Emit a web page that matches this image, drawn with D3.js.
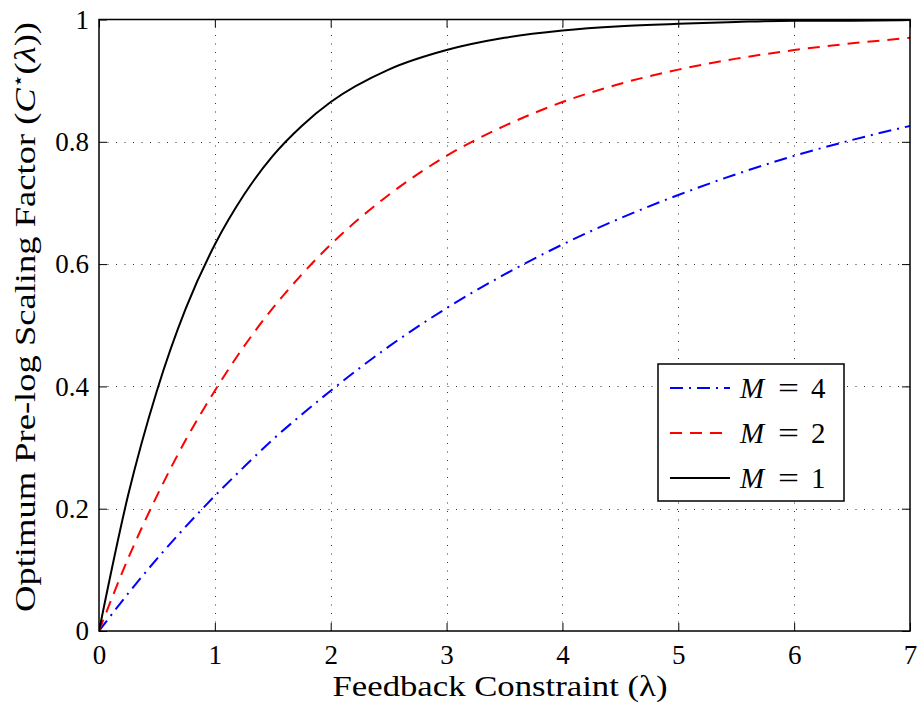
<!DOCTYPE html>
<html>
<head>
<meta charset="utf-8">
<script src="https://cdn.jsdelivr.net/npm/d3@7/dist/d3.min.js"></script>
<style>
  html, body { margin: 0; padding: 0; background: #fff; }
  svg { display: block; }
  text { font-family: "Liberation Serif", "DejaVu Serif", serif; fill: #000; }
</style>
</head>
<body>
<svg id="chart" width="917" height="703"></svg>
<script>
// Feedback constraint values (x axis)
const lambda = [0, 0.25, 0.5, 0.75, 1, 1.25, 1.5, 1.75, 2, 2.5, 3, 3.5, 4, 4.5, 5, 5.5, 6, 6.5, 7];

// Optimum pre-log scaling factor for each number of antennas M
const cM1 = [0, 0.221, 0.393, 0.528, 0.632, 0.713, 0.777, 0.826, 0.865, 0.918, 0.950, 0.970, 0.982, 0.989, 0.993, 0.996, 0.998, 0.998, 0.999];
const cM2 = [0, 0.118, 0.221, 0.313, 0.393, 0.465, 0.528, 0.583, 0.632, 0.713, 0.777, 0.826, 0.865, 0.895, 0.918, 0.936, 0.950, 0.961, 0.970];
const cM4 = [0, 0.061, 0.118, 0.171, 0.221, 0.268, 0.313, 0.354, 0.393, 0.465, 0.528, 0.583, 0.632, 0.675, 0.713, 0.747, 0.777, 0.803, 0.826];

const xTicks = [0, 1, 2, 3, 4, 5, 6, 7];
const yTicks = [0, 0.2, 0.4, 0.6, 0.8, 1];

const series = [
  { label: "4", values: cM4, color: "#0000ff", dash: "13,6,2,6" },
  { label: "2", values: cM2, color: "#ff0000", dash: "12,8" },
  { label: "1", values: cM1, color: "#000000", dash: null }
];

const serif = '"Liberation Serif", "DejaVu Serif", serif';
const svg = d3.select("#chart");
const plot = { left: 99, right: 910, top: 19.5, bottom: 631 };

const x = d3.scaleLinear().domain([0, 7]).range([plot.left, plot.right]);
const y = d3.scaleLinear().domain([0, 1]).range([plot.bottom, plot.top]);

// Dotted grid
const grid = svg.append("g").attr("stroke", "#333").attr("stroke-width", 1)
  .attr("stroke-dasharray", "1,7.5");
grid.selectAll("line.gx").data(xTicks.slice(1, -1)).join("line")
  .attr("x1", d => Math.round(x(d)) + 0.5).attr("x2", d => Math.round(x(d)) + 0.5)
  .attr("y1", plot.bottom).attr("y2", plot.top);
grid.selectAll("line.gy").data(yTicks.slice(1, -1)).join("line")
  .attr("y1", d => Math.round(y(d)) + 0.5).attr("y2", d => Math.round(y(d)) + 0.5)
  .attr("x1", plot.left).attr("x2", plot.right);

// Axes with inward ticks on all four sides
const tickLen = 8;
const fmt = d => d === 0 ? "0" : d === 1 ? "1" : d3.format(".1f")(d);

const xAxis = svg.append("g").attr("transform", `translate(0,${plot.bottom})`)
  .call(d3.axisBottom(x).tickValues(xTicks).tickSizeInner(-tickLen).tickSizeOuter(0).tickPadding(14).tickFormat(d3.format("d")));
const xAxisTop = svg.append("g").attr("transform", `translate(0,${plot.top})`)
  .call(d3.axisTop(x).tickValues(xTicks).tickSizeInner(-tickLen).tickSizeOuter(0).tickFormat(""));
const yAxis = svg.append("g").attr("transform", `translate(${plot.left},0)`)
  .call(d3.axisLeft(y).tickValues(yTicks).tickSizeInner(-tickLen).tickSizeOuter(0).tickPadding(10).tickFormat(fmt));
const yAxisRight = svg.append("g").attr("transform", `translate(${plot.right},0)`)
  .call(d3.axisRight(y).tickValues(yTicks).tickSizeInner(-tickLen).tickSizeOuter(0).tickFormat(""));

[xAxis, xAxisTop, yAxis, yAxisRight].forEach(g => {
  g.attr("font-family", null).attr("font-size", null);
  g.select(".domain").remove();
  g.selectAll(".tick line").attr("stroke", "#000").attr("stroke-width", 1);
  g.selectAll(".tick text")
    .style("font-family", serif).style("font-size", "27px").attr("fill", "#000");
});
xAxis.selectAll(".tick text").attr("dy", "0.71em");

// Curves
const line = d3.line().x((d, i) => x(lambda[i])).y(d => y(d)).curve(d3.curveMonotoneX);
svg.append("clipPath").attr("id", "plotClip").append("rect")
  .attr("x", plot.left).attr("y", plot.top - 2)
  .attr("width", plot.right - plot.left).attr("height", plot.bottom - plot.top + 2);
svg.append("g").attr("clip-path", "url(#plotClip)")
  .selectAll("path").data(series).join("path")
  .attr("d", d => line(d.values))
  .attr("fill", "none")
  .attr("stroke", d => d.color)
  .attr("stroke-width", 2)
  .attr("stroke-dasharray", d => d.dash);

// Frame
svg.append("rect")
  .attr("x", plot.left).attr("y", plot.top)
  .attr("width", plot.right - plot.left).attr("height", plot.bottom - plot.top)
  .attr("fill", "none").attr("stroke", "#000").attr("stroke-width", 1.5);

// Axis titles
svg.append("text")
  .attr("x", 500).attr("y", 696)
  .attr("text-anchor", "middle").style("font-size", "29px")
  .attr("textLength", 335).attr("lengthAdjust", "spacingAndGlyphs")
  .text("Feedback Constraint (λ)");

const yTitle = svg.append("text")
  .attr("transform", `translate(35,317) rotate(-90)`)
  .attr("text-anchor", "middle").style("font-size", "29px")
  .attr("textLength", 590).attr("lengthAdjust", "spacingAndGlyphs");
yTitle.append("tspan").text("Optimum Pre-log Scaling Factor (");
yTitle.append("tspan").attr("font-style", "italic").text("C");
yTitle.append("tspan").style("font-size", "18px").attr("dy", -11).text("⋆");
yTitle.append("tspan").attr("dy", 11).text("(");
yTitle.append("tspan").attr("font-style", "italic").text("λ");
yTitle.append("tspan").text("))");

// Legend
const legend = svg.append("g");
legend.append("rect")
  .attr("x", 658).attr("y", 364).attr("width", 186).attr("height", 137)
  .attr("fill", "#fff").attr("stroke", "#000").attr("stroke-width", 1.5);
const rows = legend.selectAll("g.row").data(series).join("g")
  .attr("transform", (d, i) => `translate(0,${388 + i * 45})`);
rows.append("line")
  .attr("x1", 670).attr("x2", 730).attr("y1", 0).attr("y2", 0)
  .attr("stroke", d => d.color).attr("stroke-width", 2)
  .attr("stroke-dasharray", d => d.dash);
const lt = rows.append("text").attr("y", 10).style("font-size", "29px");
lt.append("tspan").attr("x", 740).attr("font-style", "italic").text("M");
lt.append("tspan").attr("x", 778)
  .attr("textLength", 21).attr("lengthAdjust", "spacingAndGlyphs").text("=");
lt.append("tspan").attr("x", 811).text(d => d.label);
</script>
</body>
</html>
